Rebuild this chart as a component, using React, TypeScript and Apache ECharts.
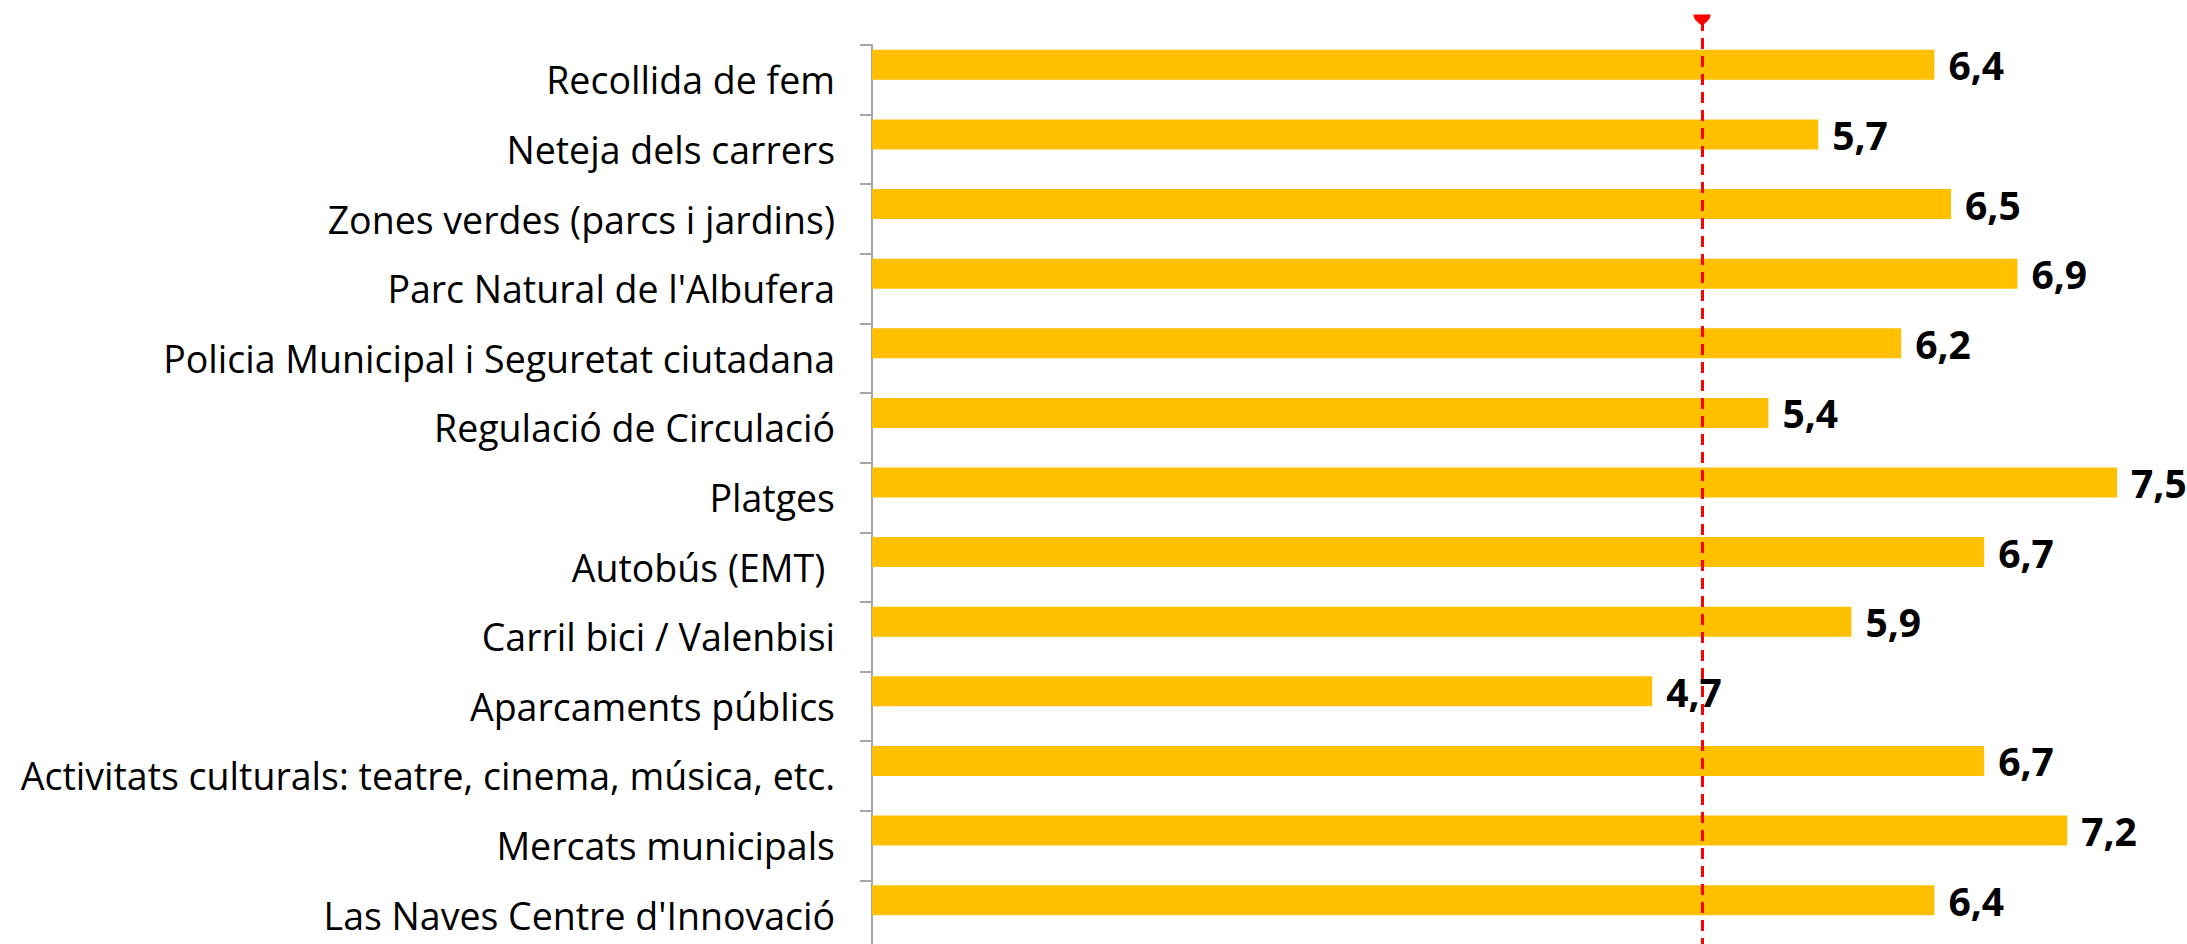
import React, { useEffect, useRef } from "react";
import * as echarts from "echarts";

const categories: string[] = [
  "Recollida de fem",
  "Neteja dels carrers",
  "Zones verdes (parcs i jardins)",
  "Parc Natural de l'Albufera",
  "Policia Municipal i Seguretat ciutadana",
  "Regulació de Circulació",
  "Platges",
  "Autobús (EMT) ",
  "Carril bici / Valenbisi",
  "Aparcaments públics",
  "Activitats culturals: teatre, cinema, música, etc.",
  "Mercats municipals",
  "Las Naves Centre d'Innovació",
];

const scores: number[] = [6.4, 5.7, 6.5, 6.9, 6.2, 5.4, 7.5, 6.7, 5.9, 4.7, 6.7, 7.2, 6.4];
const hiddenSeries: (number | null)[] = categories.map(() => null);
const referenceValue = 5;
const axisMin = 0;
const axisMax = 10;

export default function App() {
  const ref = useRef<HTMLDivElement>(null);
  useEffect(() => {
    if (!ref.current) return;
    const chart = echarts.init(ref.current, undefined, { renderer: "svg" });
    chart.setOption({
      animation: false,
      backgroundColor: "#ffffff",
      grid: { left: 872, top: 45, width: 1660, height: 905, containLabel: false },
      xAxis: {
        type: "value",
        min: axisMin,
        max: axisMax,
        show: false,
        splitLine: { show: false },
      },
      yAxis: {
        type: "category",
        inverse: true,
        data: categories,
        axisLine: { show: true, lineStyle: { color: "#A6A6A6", width: 2 } },
        axisTick: { show: true, length: 12, lineStyle: { color: "#A6A6A6", width: 2 } },
        axisLabel: {
          fontFamily: "Open Sans",
          fontSize: 37.5,
          color: "#000000",
          margin: 37,
        },
      },
      series: [
        {
          type: "bar",
          data: scores,
          barWidth: 30,
          barGap: "0%",
          itemStyle: { color: "#FFC000" },
          label: {
            show: true,
            position: "right",
            distance: 14,
            fontFamily: "Open Sans",
            fontWeight: "bold",
            fontSize: 39,
            color: "#000000",
            formatter: (p: any) => Number(p.value).toFixed(1).replace(".", ","),
          },
          z: 2,
        },
        {
          type: "bar",
          data: hiddenSeries,
          barWidth: 30,
          barGap: "0%",
          itemStyle: { color: "transparent" },
          z: 10,
          markLine: {
            silent: true,
            symbol: ["path://M0,0 L20,0 C20,6 14,9 10,12 C6,9 0,6 0,0 Z", "none"],
            symbolSize: [17, 11],
            symbolRotate: 0,
            label: { show: false },
            lineStyle: { color: "#FF0000", width: 3, type: [11, 7] },
            data: [[{ xAxis: referenceValue, y: 20 }, { xAxis: referenceValue, y: 1000 }]],
          },
        },
      ],
    });
    return () => chart.dispose();
  }, []);
  return (
    <div
      style={{
        position: "fixed",
        left: 0,
        top: 0,
        width: "2187px",
        height: "944px",
        overflow: "hidden",
        background: "#ffffff",
      }}
    >
      <div ref={ref} style={{ width: "2600px", height: "1000px" }} />
    </div>
  );
}
